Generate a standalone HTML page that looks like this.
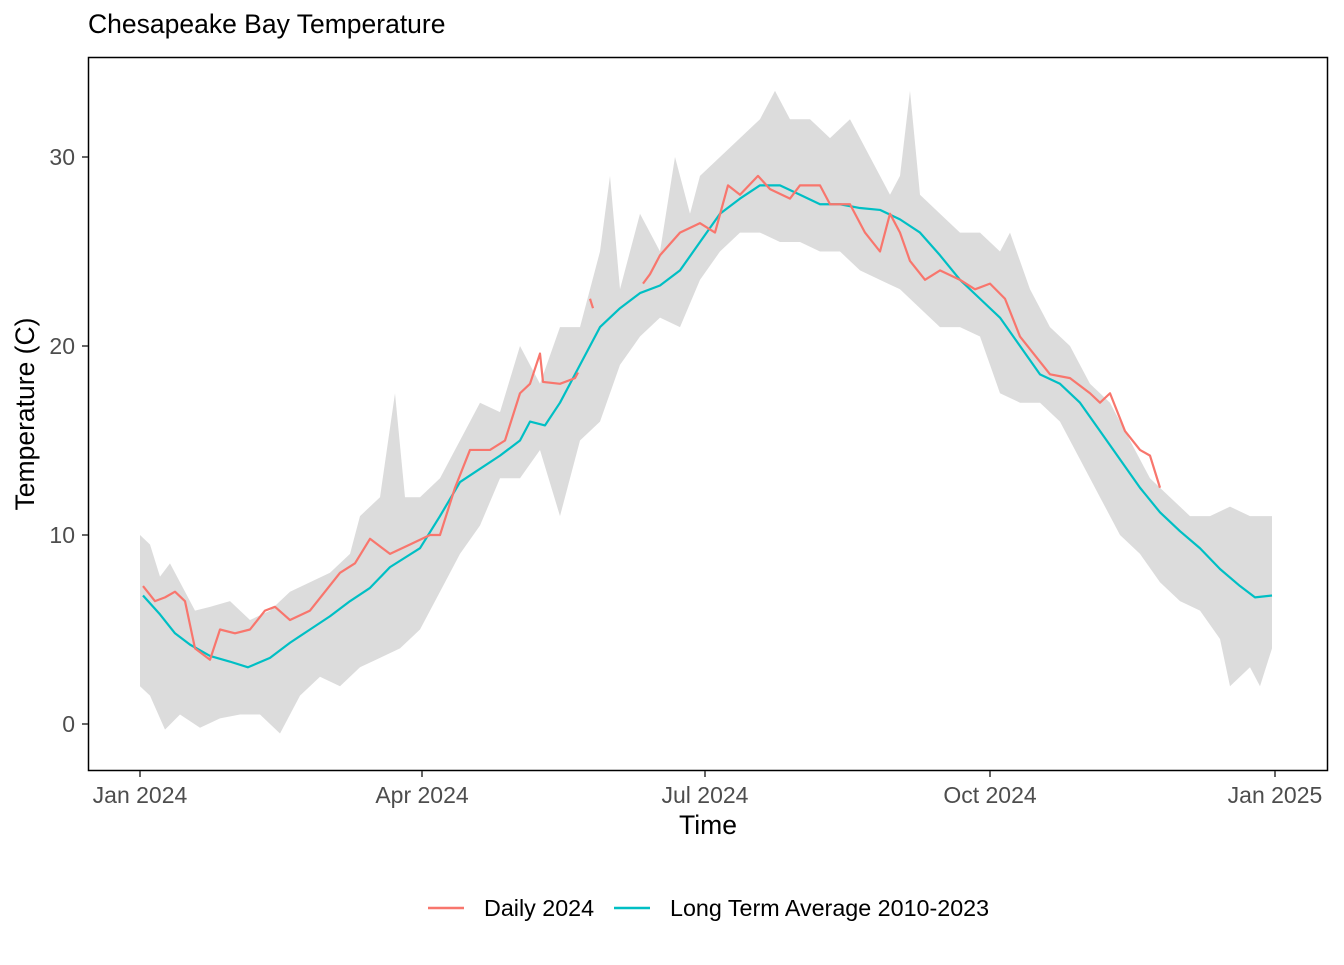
<!DOCTYPE html>
<html><head><meta charset="utf-8"><style>
body{margin:0;background:#fff;width:1344px;height:960px;overflow:hidden;font-family:"Liberation Sans",sans-serif}
</style></head><body>
<svg width="1344" height="960" xmlns="http://www.w3.org/2000/svg" font-family="Liberation Sans, sans-serif">
<rect width="1344" height="960" fill="#fff"/>
<text x="88" y="33" font-size="26.5" fill="#000">Chesapeake Bay Temperature</text>
<g transform="matrix(1 0 0 -18.9 0 724)">
<polygon fill="#dcdcdc" points="
140,10 150,9.5 160,7.8 170,8.5 180,7.5 195,6 210,6.2 230,6.5 250,5.5 270,6 290,7 310,7.5 330,8 350,9 360,11 380,12 395,17.5 405,12 420,12 440,13 460,15 480,17 500,16.5 520,20 540,18 560,21 580,21 600,25 610,29 620,23 640,27 660,25 675,30 690,27 700,29 720,30 740,31 760,32 775,33.5 790,32 810,32 830,31 850,32 870,30 890,28 900,29 910,33.5 920,28 940,27 960,26 980,26 1000,25 1010,26 1030,23 1050,21 1070,20 1090,18 1110,17 1130,15 1150,13 1170,12 1190,11 1210,11 1230,11.5 1250,11 1272,11
1272,4 1260,2 1250,3 1230,2 1220,4.5 1200,6 1180,6.5 1160,7.5 1140,9 1120,10 1100,12 1080,14 1060,16 1040,17 1020,17 1000,17.5 980,20.5 960,21 940,21 920,22 900,23 880,23.5 860,24 840,25 820,25 800,25.5 780,25.5 760,26 740,26 720,25 700,23.5 680,21 660,21.5 640,20.5 620,19 600,16 580,15 560,11 540,14.5 520,13 500,13 480,10.5 460,9 440,7 420,5 400,4 380,3.5 360,3 340,2 320,2.5 300,1.5 280,-0.5 260,0.5 240,0.5 220,0.3 200,-0.2 180,0.5 165,-0.3 150,1.5 140,2"/>
<polyline fill="none" stroke="#00BFC4" stroke-width="2.2" vector-effect="non-scaling-stroke" stroke-linejoin="round" points="143,6.8 160,5.8 175,4.8 190,4.2 210,3.6 230,3.3 248,3.0 270,3.5 290,4.3 310,5 330,5.7 350,6.5 370,7.2 390,8.3 420,9.3 440,11 460,12.8 480,13.5 500,14.2 520,15 530,16 545,15.8 560,17 580,19 600,21 620,22 640,22.8 660,23.2 680,24 700,25.5 720,27 740,27.8 760,28.5 780,28.5 800,28 820,27.5 840,27.5 860,27.3 880,27.2 900,26.7 920,26 940,24.8 960,23.5 980,22.5 1000,21.5 1020,20 1040,18.5 1060,18 1080,17 1100,15.5 1120,14 1140,12.5 1160,11.2 1180,10.2 1200,9.3 1220,8.2 1240,7.3 1255,6.7 1272,6.8"/>
<g fill="none" stroke="#F8766D" stroke-width="2.2" vector-effect="non-scaling-stroke" stroke-linejoin="round">
<polyline vector-effect="non-scaling-stroke" points="143,7.3 155,6.5 165,6.7 175,7 185,6.5 195,4 210,3.4 220,5 235,4.8 250,5 265,6 275,6.2 290,5.5 310,6 325,7 340,8 355,8.5 370,9.8 390,9 410,9.5 430,10 440,10 455,12.5 470,14.5 490,14.5 505,15 520,17.5 530,18 540,19.6 543,18.1 560,18 575,18.3 578,18.6"/>
<polyline vector-effect="non-scaling-stroke" points="590,22.5 593,22"/>
<polyline vector-effect="non-scaling-stroke" points="643,23.3 650,23.8 660,24.8 680,26 700,26.5 715,26 728,28.5 740,28 758,29 770,28.3 790,27.8 800,28.5 820,28.5 830,27.5 850,27.5 865,26 880,25 890,27 900,26 910,24.5 925,23.5 940,24 960,23.5 975,23 990,23.3 1005,22.5 1020,20.5 1035,19.5 1050,18.5 1070,18.3 1090,17.5 1100,17 1110,17.5 1125,15.5 1140,14.5 1150,14.2 1160,12.5"/>
</g>
</g>
<rect x="88.5" y="57.5" width="1239" height="713" fill="none" stroke="#000" stroke-width="1.5"/>
<g stroke="#333" stroke-width="1.5">
<line x1="82" y1="157" x2="88" y2="157"/><line x1="82" y1="346" x2="88" y2="346"/><line x1="82" y1="535" x2="88" y2="535"/><line x1="82" y1="724" x2="88" y2="724"/>
<line x1="140" y1="771" x2="140" y2="777"/><line x1="422" y1="771" x2="422" y2="777"/><line x1="705" y1="771" x2="705" y2="777"/><line x1="990" y1="771" x2="990" y2="777"/><line x1="1275" y1="771" x2="1275" y2="777"/>
</g>
<g font-size="23" fill="#4d4d4d" text-anchor="end">
<text x="75" y="165">30</text><text x="75" y="354">20</text><text x="75" y="543">10</text><text x="75" y="732">0</text>
</g>
<g font-size="23" fill="#4d4d4d" text-anchor="middle">
<text x="140" y="803">Jan 2024</text><text x="422" y="803">Apr 2024</text><text x="705" y="803">Jul 2024</text><text x="990" y="803">Oct 2024</text><text x="1275" y="803">Jan 2025</text>
</g>
<text x="708" y="834" font-size="26.5" text-anchor="middle">Time</text>
<text transform="translate(34,414) rotate(-90)" font-size="26.5" text-anchor="middle">Temperature (C)</text>
<line x1="428" y1="908" x2="464" y2="908" stroke="#F8766D" stroke-width="2.5"/>
<text x="484" y="916" font-size="23.3">Daily 2024</text>
<line x1="614" y1="908" x2="650" y2="908" stroke="#00BFC4" stroke-width="2.5"/>
<text x="670" y="916" font-size="23.3">Long Term Average 2010-2023</text>
</svg>
</body></html>
